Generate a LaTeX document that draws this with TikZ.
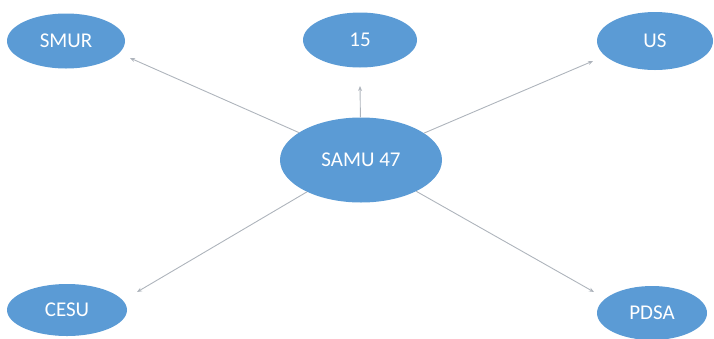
\documentclass[tikz,border=0pt]{standalone}
\usepackage{fontspec}
\setmainfont{Carlito}
\usetikzlibrary{shapes.geometric,arrows.meta}
\definecolor{offblue}{HTML}{5B9BD5}
\definecolor{linkgray}{HTML}{AEB4BC}
\begin{document}
\begin{tikzpicture}[x=1pt,y=-1pt,
  bubble/.style={ellipse,fill=offblue,draw=none,inner sep=0pt,text=white,font=\fontsize{21}{24}\selectfont},
  link/.style={draw=linkgray,line width=0.9pt,-{Stealth[length=5pt,width=4pt]}}]
\useasboundingbox (0,0) rectangle (714,338);
\node[bubble,minimum width=162pt,minimum height=85pt] (samu) at (361,160) {SAMU 47};
\node[bubble,minimum width=118pt,minimum height=55pt] (smur) at (66,41) {SMUR};
\node[bubble,minimum width=114pt,minimum height=55pt] (quinze) at (360,40) {15};
\node[bubble,minimum width=116pt,minimum height=58pt] (us) at (655,41) {US};
\node[bubble,minimum width=120pt,minimum height=52pt] (cesu) at (67,310) {CESU};
\node[bubble,minimum width=110pt,minimum height=54pt] (pdsa) at (652,313) {PDSA};
\coordinate (tsmur) at (130,58);
\coordinate (tquinze) at (360,86);
\coordinate (tus) at (593,61);
\coordinate (tcesu) at (137,292);
\coordinate (tpdsa) at (594,292);
\draw[link] (samu) -- (tsmur);
\draw[link] (samu) -- (tquinze);
\draw[link] (samu) -- (tus);
\draw[link] (samu) -- (tcesu);
\draw[link] (samu) -- (tpdsa);
\end{tikzpicture}
\end{document}
